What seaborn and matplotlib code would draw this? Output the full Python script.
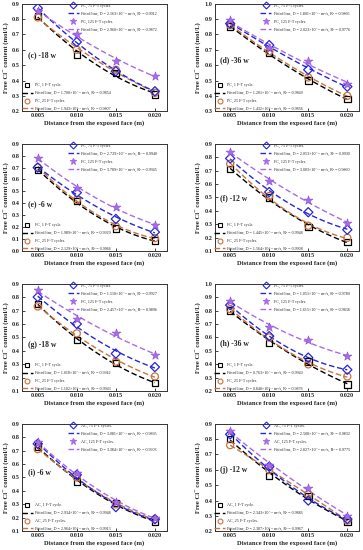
import matplotlib
matplotlib.use("Agg")
import matplotlib.pyplot as plt
from matplotlib.lines import Line2D
import seaborn as sns
import pandas as pd

# --- Data (rows: 1, 25, 75, 125 F-T cycles) ---
depth = [0.005, 0.010, 0.015, 0.020]
cycles = [1, 25, 75, 125]

pc_18w = [[0.82, 0.57, 0.45, 0.31], [0.81, 0.60, 0.47, 0.32],
          [0.87, 0.65, 0.46, 0.33], [0.85, 0.70, 0.53, 0.43]]
pc_36w = [[0.85, 0.68, 0.50, 0.38], [0.86, 0.69, 0.52, 0.40],
          [0.87, 0.73, 0.57, 0.46], [0.89, 0.71, 0.63, 0.48]]
fc_6w = [[0.68, 0.42, 0.19, 0.09], [0.70, 0.43, 0.21, 0.11],
         [0.70, 0.49, 0.27, 0.16], [0.78, 0.53, 0.37, 0.22]]
fc_12w = [[0.71, 0.50, 0.28, 0.17], [0.75, 0.51, 0.29, 0.20],
          [0.79, 0.54, 0.39, 0.26], [0.84, 0.62, 0.48, 0.31]]
fc_18w = [[0.75, 0.48, 0.31, 0.16], [0.73, 0.53, 0.32, 0.21],
          [0.80, 0.60, 0.38, 0.28], [0.85, 0.64, 0.53, 0.37]]
fc_36w = [[0.80, 0.56, 0.42, 0.25], [0.81, 0.60, 0.40, 0.31],
          [0.84, 0.61, 0.45, 0.36], [0.87, 0.68, 0.58, 0.46]]
ac_6w = [[0.73, 0.47, 0.31, 0.17], [0.71, 0.50, 0.30, 0.19],
         [0.75, 0.52, 0.28, 0.19], [0.76, 0.53, 0.32, 0.20]]
ac_12w = [[0.80, 0.56, 0.43, 0.26], [0.76, 0.60, 0.44, 0.27],
          [0.83, 0.62, 0.40, 0.28], [0.85, 0.63, 0.48, 0.30]]

# diffusion coefficients (x10^-11 m2/s) and R2 of fits
pc_18w_D = ["1.700", "1.943", "2.163", "2.960"]
pc_18w_R2 = ["0.9854", "0.9807", "0.9012", "0.9872"]
pc_36w_D = ["1.201", "1.432", "1.801", "2.023"]
pc_36w_R2 = ["0.9849", "0.9856", "0.9866", "0.9776"]
fc_6w_D = ["1.989", "2.129", "2.729", "3.789"]
fc_6w_R2 = ["0.9929", "0.9966", "0.9940", "0.9945"]
fc_12w_D = ["1.445", "1.564", "2.053", "3.003"]
fc_12w_R2 = ["0.9948", "0.9908", "0.9930", "0.9860"]
fc_18w_D = ["1.018", "1.102", "1.510", "2.457"]
fc_18w_R2 = ["0.9942", "0.9943", "0.9927", "0.9896"]
fc_36w_D = ["0.763", "0.840", "1.051", "1.615"]
fc_36w_R2 = ["0.9940", "0.9876", "0.9780", "0.9838"]
ac_6w_D = ["2.934", "2.964", "3.081", "3.384"]
ac_6w_R2 = ["0.9948", "0.9913", "0.9895", "0.9903"]
ac_12w_D = ["2.343", "2.387", "2.508", "2.827"]
ac_12w_R2 = ["0.9886", "0.9967", "0.9832", "0.9775"]

panel_tags = ["(c) -18 w", "(d) -36 w", "(e) -6 w", "(f) -12 w",
              "(g) -18 w", "(h) -36 w", "(i) -6 w", "(j) -12 w"]
materials = ["PC", "PC", "FC", "FC", "FC", "FC", "AC", "AC"]
y_ranges = [(0.2, 0.9), (0.3, 1.0), (0.0, 0.9), (0.1, 0.9),
            (0.1, 0.9), (0.2, 1.0), (0.1, 0.9), (0.2, 0.9)]
tag_y = [0.52, 0.47, 0.44, 0.49, 0.43, 0.45, 0.55, 0.57]

values = [pc_18w, pc_36w, fc_6w, fc_12w, fc_18w, fc_36w, ac_6w, ac_12w]
d_vals = [pc_18w_D, pc_36w_D, fc_6w_D, fc_12w_D, fc_18w_D, fc_36w_D, ac_6w_D, ac_12w_D]
r2_vals = [pc_18w_R2, pc_36w_R2, fc_6w_R2, fc_12w_R2, fc_18w_R2, fc_36w_R2, ac_6w_R2, ac_12w_R2]

# --- Styles ---
colors = ["#000000", "#c8743c", "#2626dc", "#a76ce8"]
markers = ["s", "o", "D", "*"]
sizes = [22, 26, 22, 45]

sns.set_theme(style="ticks")
plt.rcParams["font.family"] = ["Liberation Serif", "DejaVu Serif"]
plt.rcParams["font.weight"] = "bold"
plt.rcParams["axes.labelweight"] = "bold"

fig, axes = plt.subplots(4, 2, figsize=(3.63, 5.5), dpi=100)
fig.subplots_adjust(left=0.061, right=0.989, top=0.9935, bottom=0.034,
                    wspace=0.332, hspace=0.30)

for k, ax in enumerate(axes.flat):
    mat = materials[k]
    df = pd.DataFrame({
        "x": depth * 4,
        "y": [v for row in values[k] for v in row],
        "cyc": [c for c in cycles for _ in depth],
    })
    handles = []
    for i, c in enumerate(cycles):
        sub = df[df["cyc"] == c]
        sns.regplot(data=sub, x="x", y="y", order=2, ci=None, scatter=False,
                    ax=ax, color=colors[i],
                    line_kws={"lw": 1.0, "ls": (0, (4, 2)), "zorder": 2})
        if markers[i] == "*":
            sns.scatterplot(data=sub, x="x", y="y", ax=ax, marker="*", s=sizes[i],
                            color=colors[i], edgecolor="#8a4fd8", linewidth=0.4,
                            zorder=4, legend=False)
        else:
            sns.scatterplot(data=sub, x="x", y="y", ax=ax, marker=markers[i],
                            s=sizes[i], facecolor="none", edgecolor=colors[i],
                            linewidth=0.9, zorder=4, legend=False)
        lbl = f"{mat}, {c} F-T cycle." if c == 1 else f"{mat}, {c} F-T cycles."
        mh = Line2D([], [], ls="none", marker=markers[i],
                    markersize=5 if markers[i] == "*" else 3.5,
                    markerfacecolor=colors[i] if markers[i] == "*" else "none",
                    markeredgecolor=colors[i], markeredgewidth=0.8, label=lbl)
        fit_lbl = (f"Fitted line, D = {d_vals[k][i]}\u00d710\u207b\u00b9\u00b9 m\u00b2/s, "
                   f"R\u00b2 = {r2_vals[k][i]}")
        lh = Line2D([], [], color=colors[i], lw=1.0, ls=(0, (4, 2)), label=fit_lbl)
        handles += [mh, lh]

    leg_top = ax.legend(handles=handles[4:], loc="upper left",
                        bbox_to_anchor=(0.30, 1.02), frameon=False,
                        prop={"size": 3.0, "weight": "normal"},
                        handlelength=2.6, handletextpad=0.6, labelspacing=0.9,
                        borderaxespad=0.2)
    ax.add_artist(leg_top)
    ax.legend(handles=handles[:4], loc="lower left", bbox_to_anchor=(-0.02, -0.02),
              frameon=False, prop={"size": 3.0, "weight": "normal"},
              handlelength=2.6, handletextpad=0.6, labelspacing=0.9,
              borderaxespad=0.2)

    ax.text(0.04, tag_y[k], panel_tags[k], transform=ax.transAxes,
            fontsize=5.5, fontweight="bold", va="center")

    lo, hi = y_ranges[k]
    ax.set_xlim(0.003, 0.0215)
    ax.set_ylim(lo, hi)
    ax.set_xticks(depth)
    ax.set_xticklabels([f"{d:.3f}" for d in depth])
    n = int(round((hi - lo) / 0.1))
    yt = [round(lo + 0.1 * j, 1) for j in range(n + 1)]
    ax.set_yticks(yt)
    ax.set_yticklabels([f"{t:.1f}" for t in yt])
    ax.tick_params(direction="in", length=2, width=0.6, labelsize=4.5, pad=1.5)
    for lab in ax.get_xticklabels() + ax.get_yticklabels():
        lab.set_fontweight("bold")
    for sp in ax.spines.values():
        sp.set_linewidth(0.7)
        sp.set_color("#333333")
    ax.set_xlabel("Distance from the exposed face (m)", fontsize=4.8,
                  fontweight="bold", labelpad=1)
    ax.set_ylabel("Free Cl\u207b content (mol/L)", fontsize=4.8,
                  fontweight="bold", labelpad=1.5)

fig.savefig("out.png", dpi=100)
